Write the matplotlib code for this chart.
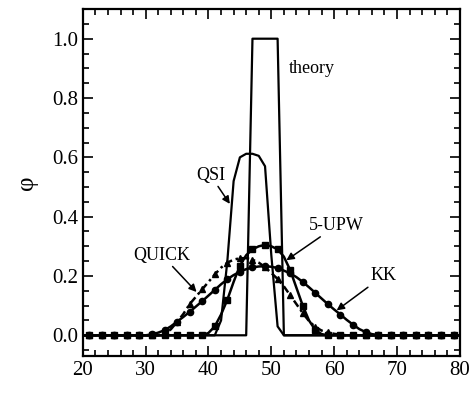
import numpy as np
import matplotlib
matplotlib.use('Agg')
import matplotlib.pyplot as plt
from matplotlib.ticker import MultipleLocator

plt.rcParams['font.family'] = ['Liberation Serif', 'DejaVu Serif']

# grid of cell positions
x = np.arange(20, 81)

# nonzero part of each profile, starting at the given x
kk_start = 30
kk_core = [0.0, 0.003, 0.009, 0.017, 0.030, 0.046, 0.062, 0.079, 0.097, 0.115,
           0.134, 0.153, 0.172, 0.189, 0.203, 0.214, 0.223, 0.229, 0.232, 0.233,
           0.231, 0.227, 0.218, 0.209, 0.196, 0.180, 0.162, 0.143, 0.124, 0.105,
           0.087, 0.070, 0.052, 0.036, 0.021, 0.011, 0.004, 0.001, 0.0]

upw_start = 39
upw_core = [0.0, 0.008, 0.030, 0.070, 0.120, 0.180, 0.235, 0.270, 0.290, 0.300,
            0.305, 0.300, 0.290, 0.265, 0.220, 0.160, 0.100, 0.050, 0.018, 0.004, 0.0]

quick_start = 32
quick_core = [0.0, 0.005, 0.020, 0.045, 0.072, 0.105, 0.130, 0.155, 0.180, 0.205,
              0.228, 0.245, 0.255, 0.260, 0.260, 0.255, 0.245, 0.230, 0.210, 0.190,
              0.165, 0.135, 0.105, 0.075, 0.048, 0.028, 0.016, 0.010, 0.005, 0.002, 0.0]

qsi_x = [20, 41, 42, 43, 44, 45, 46, 47, 48, 49, 50, 51, 52, 80]
qsi_y = [0, 0, 0.05, 0.25, 0.52, 0.60, 0.612, 0.612, 0.605, 0.57, 0.27, 0.03, 0, 0]

theory_x = [20, 46, 47, 51, 52, 80]
theory_y = [0, 0, 1, 1, 0, 0]


def pad(core, start):
    y = np.zeros(len(x))
    y[start - 20:start - 20 + len(core)] = core
    return y


kk = pad(kk_core, kk_start)
upw = pad(upw_core, upw_start)
quick = pad(quick_core, quick_start)

fig = plt.figure(figsize=(4.76, 3.93), dpi=100)
ax = fig.add_axes([0.174, 0.094, 0.792, 0.883])

ax.plot(theory_x, theory_y, color='black', lw=1.6)
ax.plot(qsi_x, qsi_y, color='black', lw=1.6)
ax.plot(x, quick, color='black', lw=1.8, ls=(0, (3, 1.5, 1, 1.5)),
        marker='^', ms=4.5, markevery=(1, 2))
ax.plot(x, upw, color='black', lw=1.8, marker='s', ms=4.5, markevery=(1, 2))
ax.plot(x, kk, color='black', lw=1.8, marker='o', ms=4.5, markevery=(1, 2))

# labels and arrows
ax.text(52.8, 0.90, 'theory', fontsize=13, va='center', ha='left')
arrow = dict(arrowstyle='-|>', color='black', lw=1.1, shrinkA=0, shrinkB=0,
             mutation_scale=11)
ax.annotate('QSI', xy=(43.4, 0.443), xytext=(40.3, 0.54), fontsize=13,
            ha='center', va='center', arrowprops=arrow)
ax.annotate('5-UPW', xy=(52.4, 0.253), xytext=(60.4, 0.37), fontsize=13,
            ha='center', va='center', arrowprops=arrow)
ax.annotate('QUICK', xy=(38.1, 0.146), xytext=(32.6, 0.27), fontsize=13,
            ha='center', va='center', arrowprops=arrow)
ax.annotate('KK', xy=(60.4, 0.084), xytext=(67.8, 0.20), fontsize=13,
            ha='center', va='center', arrowprops=arrow)

ax.set_xlim(20, 80)
ax.set_ylim(-0.07, 1.1)
ax.xaxis.set_major_locator(MultipleLocator(10))
ax.xaxis.set_minor_locator(MultipleLocator(2))
ax.yaxis.set_major_locator(MultipleLocator(0.2))
ax.yaxis.set_minor_locator(MultipleLocator(0.05))
ax.yaxis.set_major_formatter(plt.FormatStrFormatter('%.1f'))
ax.tick_params(which='both', direction='in', top=True, right=True,
               labelsize=15, width=1.2)
ax.tick_params(which='major', length=7)
ax.tick_params(which='minor', length=4)
for s in ax.spines.values():
    s.set_linewidth(1.6)

ax.set_ylabel('\u03c6', fontsize=18, labelpad=10)

fig.savefig('out.png', dpi=100)
